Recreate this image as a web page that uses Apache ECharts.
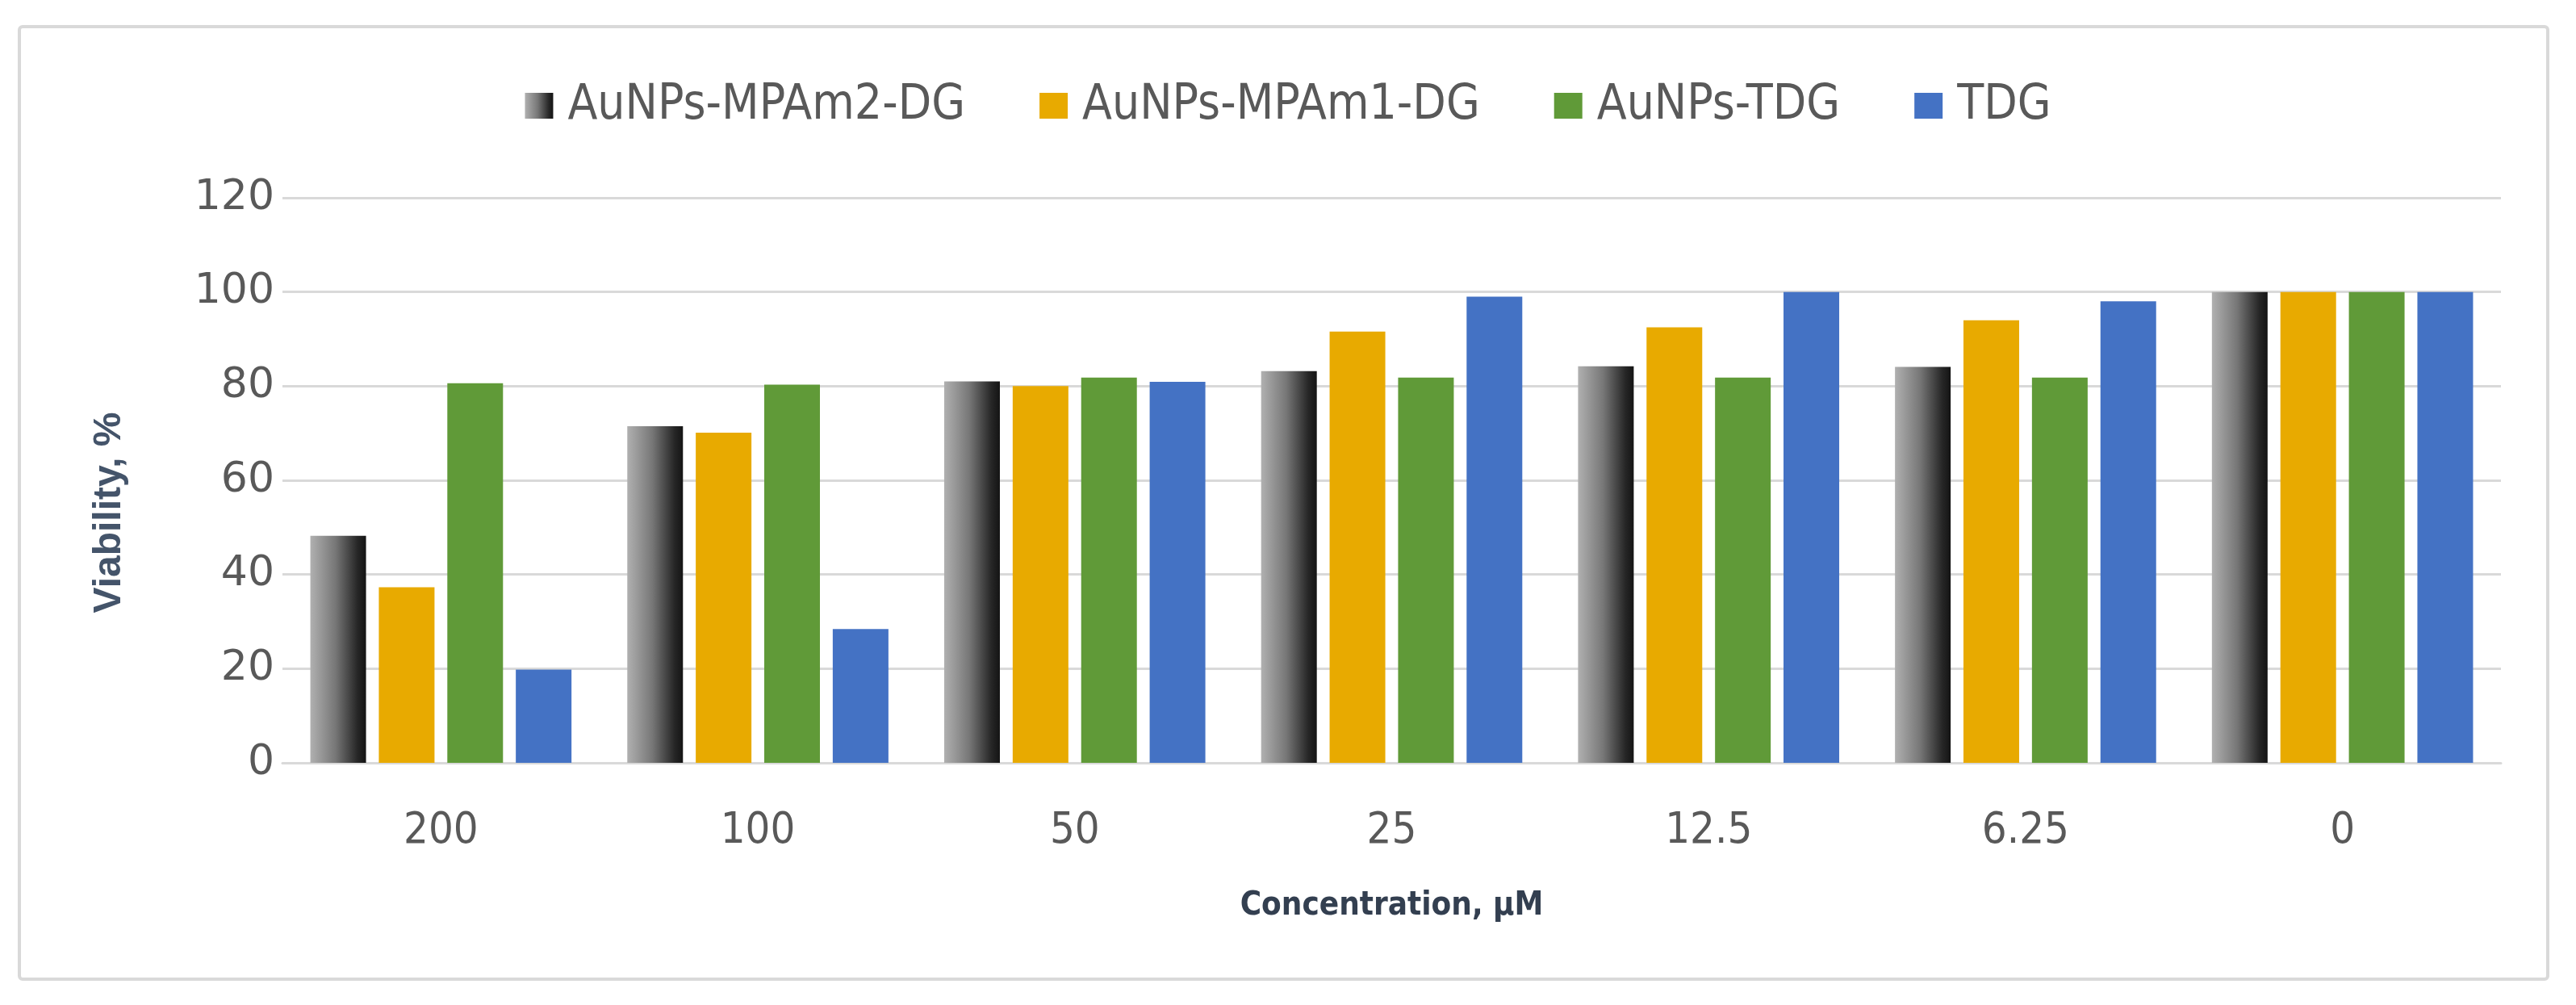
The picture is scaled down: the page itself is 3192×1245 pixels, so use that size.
<!DOCTYPE html>
<html>
<head>
<meta charset="utf-8">
<script src="https://cdn.jsdelivr.net/npm/echarts@6/dist/echarts.min.js"></script>
<style>
html,body{margin:0;padding:0;background:#fff;}
#chart{width:3192px;height:1245px;}
</style>
</head>
<body>
<div id="chart"></div>
<script>
const categories = ['200', '100', '50', '25', '12.5', '6.25', '0'];
const seriesNames = ['AuNPs-MPAm2-DG', 'AuNPs-MPAm1-DG', 'AuNPs-TDG', 'TDG'];
const mpam2 = [48.2, 71.5, 81.0, 83.2, 84.2, 84.1, 100];
const mpam1 = [37.3, 70.1, 80.0, 91.6, 92.5, 94.0, 100];
const aunpsTdg = [80.6, 80.3, 81.8, 81.8, 81.8, 81.8, 100];
const tdg = [19.8, 28.4, 80.9, 99.0, 100, 98.0, 100];
const yTicks = {min: 0, max: 120, interval: 20};

const narrow = "'Liberation Sans Narrow', 'DejaVu Sans Condensed', 'Liberation Sans', sans-serif";

const grayGrad = new echarts.graphic.LinearGradient(0, 0, 1, 0, [
  {offset: 0, color: '#b0b0b0'},
  {offset: 0.45, color: '#777777'},
  {offset: 0.85, color: '#262626'},
  {offset: 1, color: '#141414'}
]);
const colors = [grayGrad, '#E8AA00', '#609A38', '#4472C4'];
const dataSets = [mpam2, mpam1, aunpsTdg, tdg];

const chart = echarts.init(document.getElementById('chart'));
chart.setOption({
  backgroundColor: '#ffffff',
  animation: false,
  graphic: [{
    type: 'rect',
    shape: {x: 24, y: 33, width: 3133, height: 1180, r: 4},
    style: {fill: 'none', stroke: '#d9d9d9', lineWidth: 4},
    z: -1
  }],
  legend: {
    top: 96,
    left: 'center',
    itemWidth: 35,
    itemHeight: 32,
    itemGap: 92,
    icon: 'rect',
    textStyle: {fontFamily: narrow, fontSize: 60, color: '#595959', padding: [0, 0, 0, 13]},
    data: seriesNames
  },
  grid: {left: 350, right: 93, top: 245, bottom: 300, containLabel: false},
  xAxis: {
    type: 'category',
    data: categories,
    axisLine: {show: true, lineStyle: {color: '#d9d9d9', width: 3}},
    axisTick: {show: false},
    axisLabel: {fontFamily: narrow, fontSize: 54, color: '#595959', margin: 58},
    name: 'Concentration, μM',
    nameLocation: 'middle',
    nameGap: 158,
    nameTextStyle: {fontFamily: narrow, fontWeight: 'bold', fontSize: 40, color: '#333f50'}
  },
  yAxis: {
    type: 'value',
    min: yTicks.min,
    max: yTicks.max,
    interval: yTicks.interval,
    axisLine: {show: false},
    axisTick: {show: false},
    splitLine: {lineStyle: {color: '#d9d9d9', width: 3}},
    axisLabel: {fontFamily: "'DejaVu Sans', sans-serif", fontSize: 52, color: '#595959', margin: 10},
    name: 'Viability, %',
    nameLocation: 'middle',
    nameGap: 190,
    nameTextStyle: {fontFamily: "'Liberation Sans', sans-serif", fontWeight: 'bold', fontSize: 48, color: '#44546a', padding: [0, 80, 0, 0]}
  },
  series: seriesNames.map((n, i) => ({
    name: n,
    type: 'bar',
    data: dataSets[i],
    barWidth: 69,
    barGap: '23%',
    itemStyle: {color: colors[i]}
  }))
});
</script>
</body>
</html>
